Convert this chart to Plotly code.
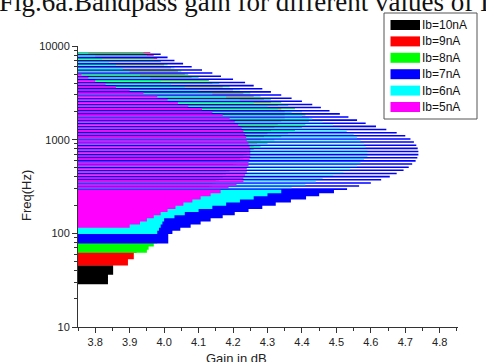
import math
import plotly.graph_objects as go

# ---------------- data ----------------
FREQ_HZ = [29.9, 32.3, 34.8, 37.6, 40.6, 43.9, 47.4, 51.2, 55.3, 59.8,
           64.6, 69.7, 75.3, 81.4, 87.9, 95.0, 102.6, 110.8, 119.7, 129.3,
           139.6, 150.8, 162.9, 176.0, 190.1, 205.4, 221.8, 239.6, 258.8, 279.6,
           302, 326, 352, 381, 411, 444, 480, 518, 560, 605,
           653, 706, 762, 823, 889, 961, 1038, 1121, 1211, 1308,
           1413, 1526, 1648, 1781, 1923, 2077, 2244, 2424, 2618, 2828,
           3055, 3300, 3565, 3851, 4159, 4493, 4853, 5243, 5662, 6117,
           6607, 7137, 7709, 8327]

GAIN_10NA = [3.837, 3.837, 3.837, 3.852, 3.852, 3.852] + [None] * 68

GAIN_9NA = [None] * 6 + [
    3.895, 3.895, 3.912, 3.912, 3.92, 3.93, 3.94, 3.96, 3.97, 3.98,
    3.99, 4.00, 4.01, 4.02, 4.03, 4.04, 4.05, 4.06, 4.07, 4.08,
    4.09, 4.10, 4.11, 4.12, 4.13, 4.14, 4.15, 4.16, 4.17, 4.18,
    4.19, 4.20, 4.21, 4.22, 4.23, 4.24, 4.25, 4.26, 4.27, 4.28,
    4.29, 4.30, 4.31, 4.32, 4.33, 4.34, 4.35, 4.35, 4.35, 4.34,
    4.33, 4.31, 4.29, 4.26, 4.23, 4.20, 4.17, 4.14, 4.11, 4.08,
    4.06, 4.04, 4.02, 4.00, 3.99, 3.98, 3.97, 3.96]

GAIN_8NA = [None] * 10 + [
    3.95, 3.955, 3.97, 3.98, 3.99, 4.00, 4.00, 4.01, 4.02, 4.03,
    4.04, 4.05, 4.06, 4.07, 4.08, 4.09, 4.10, 4.11, 4.12, 4.13,
    4.14, 4.15, 4.16, 4.17, 4.18, 4.19, 4.20, 4.21, 4.22, 4.23,
    4.24, 4.25, 4.26, 4.28, 4.30, 4.32, 4.34, 4.36, 4.38, 4.40,
    4.41, 4.42, 4.42, 4.41, 4.40, 4.38, 4.36, 4.34, 4.31, 4.28,
    4.25, 4.22, 4.19, 4.16, 4.13, 4.10, 4.07, 4.05, 4.03, 4.01,
    3.99, 3.97, 3.95, 3.94]

GAIN_7NA = [None] * 13 + [
    4.012, 4.012, 4.012, 4.024, 4.047, 4.077, 4.106, 4.135, 4.17, 4.205,
    4.245, 4.285, 4.324, 4.368, 4.412, 4.45, 4.493, 4.531, 4.566, 4.60,
    4.63, 4.655, 4.675, 4.695, 4.71, 4.72, 4.73, 4.735, 4.738, 4.738,
    4.736, 4.732, 4.725, 4.715, 4.70, 4.675, 4.645, 4.615, 4.585, 4.56,
    4.535, 4.51, 4.48, 4.455, 4.43, 4.40, 4.37, 4.34, 4.31, 4.285,
    4.26, 4.235, 4.20, 4.165, 4.14, 4.11, 4.08, 4.055, 4.03, 4.01,
    3.99]

GAIN_6NA = [None] * 16 + [
    3.98, 3.985, 3.99, 3.995, 4.00, 4.03, 4.06, 4.10, 4.14, 4.18,
    4.22, 4.26, 4.30, 4.34, 4.37, 4.41, 4.44, 4.46, 4.49, 4.52,
    4.54, 4.56, 4.57, 4.58, 4.59, 4.59, 4.59, 4.585, 4.58, 4.57,
    4.56, 4.55, 4.53, 4.51, 4.49, 4.46, 4.43, 4.40, 4.37, 4.33,
    4.30, 4.26, 4.22, 4.18, 4.14, 4.10, 4.06, 4.02, 3.99, 3.96,
    3.93, 3.90, 3.88, 3.86, 3.84, 3.82, 3.80, 3.78]

GAIN_5NA = [None] * 18 + [
    3.90, 3.93, 3.95, 3.97, 3.99, 4.01, 4.033, 4.056, 4.082, 4.106,
    4.135, 4.164, 4.187, 4.21, 4.23, 4.23, 4.235, 4.24, 4.24, 4.245,
    4.245, 4.248, 4.25, 4.25, 4.25, 4.248, 4.245, 4.24, 4.238, 4.235,
    4.23, 4.225, 4.215, 4.205, 4.19, 4.17, 4.14, 4.11, 4.07, 4.04,
    4.01, 3.98, 3.94, 3.90, 3.86, 3.83, 3.80, 3.78, 3.76] + [None] * 7

SERIES_NAMES = ["Ib=10nA", "Ib=9nA", "Ib=8nA", "Ib=7nA", "Ib=6nA", "Ib=5nA"]
SERIES_GAINS = [GAIN_10NA, GAIN_9NA, GAIN_8NA, GAIN_7NA, GAIN_6NA, GAIN_5NA]
X_TICKS = [3.8, 3.9, 4.0, 4.1, 4.2, 4.3, 4.4, 4.5, 4.6, 4.7, 4.8]
Y_TICKS = [10, 100, 1000, 10000]
Y_TICK_TEXT = ["10", "100", "1000", "10000"]

# ---------------- styles ----------------
COLORS = ["#000000", "#ff0000", "#00ff00", "#0000ff", "#00ffff", "#ff00ff"]
ROW_STEP = 0.0335          # row pitch in decades
SOLID_BELOW_HZ = 290       # rows below this are drawn as full-height bars
# sub-band (fraction of the row pitch) used by each series in the dense rows
SLOTS = [(0.25, 0.5), (0.25, 0.5), (0.25, 0.5), (-0.5, 0.0), (0.0, 0.25), (0.0, 0.5)]

W, H = 486, 362
ML, MR, MT, MB = 78, 28, 46, 35
PW, PH = W - ML - MR, H - MT - MB


def px(xp):
    return (xp - ML) / PW


def py(yp):
    return (H - MB - yp) / PH


fig = go.Figure()
for name, gains, color, slot in zip(SERIES_NAMES, SERIES_GAINS, COLORS, SLOTS):
    xs, ys = [], []
    for f, g in zip(FREQ_HZ, gains):
        if g is None:
            continue
        if f < SOLID_BELOW_HZ:
            a, b = -0.54, 0.54
        else:
            a, b = slot
        y0 = f * 10 ** (a * ROW_STEP)
        y1 = f * 10 ** (b * ROW_STEP)
        xs += [0, g, g, 0, 0, None]
        ys += [y0, y0, y1, y1, y0, None]
    fig.add_trace(go.Scatter(x=xs, y=ys, mode="lines", fill="toself",
                             fillcolor=color, line=dict(width=0, color=color),
                             name=name, showlegend=False, hoverinfo="skip"))

AX_COL = "#333333"
FONT = "Arial, Liberation Sans, sans-serif"
minor_y = [m * 10 ** d for d in range(1, 4) for m in range(2, 10)]

fig.update_layout(
    width=W, height=H,
    margin=dict(l=ML, r=MR, t=MT, b=MB, pad=0),
    paper_bgcolor="white", plot_bgcolor="white",
    showlegend=False,
    font=dict(family=FONT, size=11, color="#222"),
    xaxis=dict(range=[3.75, 4.853], tickvals=X_TICKS, tickformat=".1f",
               ticks="outside", ticklen=5, tickwidth=1, tickcolor=AX_COL,
               showline=True, linecolor=AX_COL, linewidth=1,
               showgrid=False, zeroline=False,
               tickfont=dict(size=11, color="#222"),
               minor=dict(tickvals=[3.75, 3.85, 3.95, 4.05, 4.15, 4.25, 4.35, 4.45,
                                    4.55, 4.65, 4.75, 4.85],
                          ticks="outside", ticklen=3, tickcolor=AX_COL, showgrid=False)),
    yaxis=dict(type="log", range=[1, 4], tickvals=Y_TICKS, ticktext=Y_TICK_TEXT,
               ticks="outside", ticklen=5, tickwidth=1, tickcolor=AX_COL,
               showline=True, linecolor=AX_COL, linewidth=1,
               showgrid=False, zeroline=False,
               tickfont=dict(size=11, color="#222"),
               minor=dict(tickvals=minor_y, ticks="outside", ticklen=3,
                          tickcolor=AX_COL, showgrid=False)),
)

annotations = [
    dict(text="Fig.6a.Bandpass gain for different values of Ib",
         x=px(-3), y=py(19), xref="paper", yref="paper",
         xanchor="left", yanchor="bottom", showarrow=False,
         font=dict(family="Liberation Serif, Times New Roman, serif", size=27, color="#111")),
    dict(text="Freq(Hz)", x=px(26), y=py(196), xref="paper", yref="paper",
         textangle=-90, showarrow=False, xanchor="center", yanchor="middle",
         font=dict(family=FONT, size=13, color="#222")),
    dict(text="Gain in dB", x=px(236), y=py(349), xref="paper", yref="paper",
         showarrow=False, xanchor="center", yanchor="top",
         font=dict(family=FONT, size=13, color="#222")),
]

shapes = [dict(type="rect", xref="paper", yref="paper",
               x0=px(384), x1=px(477), y0=py(119), y1=py(13),
               line=dict(color="#555", width=1), fillcolor="white", layer="above")]
for i, (name, color) in enumerate(zip(SERIES_NAMES, COLORS)):
    cy = 25 + 16.4 * i
    shapes.append(dict(type="rect", xref="paper", yref="paper",
                       x0=px(390.5), x1=px(420), y0=py(cy + 5), y1=py(cy - 5),
                       line=dict(width=0), fillcolor=color, layer="above"))
    annotations.append(dict(text=name, x=px(420), y=py(cy), xref="paper", yref="paper",
                            xanchor="left", yanchor="middle", showarrow=False,
                            font=dict(family=FONT, size=12, color="#111")))

fig.update_layout(annotations=annotations, shapes=shapes)
fig.write_html("out.html")
